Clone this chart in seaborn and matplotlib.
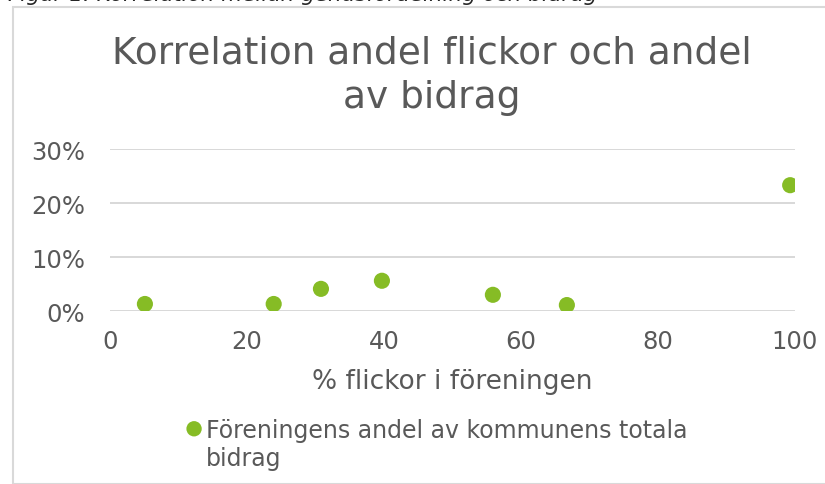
import matplotlib
matplotlib.use("Agg")
import matplotlib.pyplot as plt
import seaborn as sns
import pandas as pd
from matplotlib.ticker import PercentFormatter
from matplotlib.patches import Rectangle

# data
andel_flickor = [5.1, 23.9, 30.8, 39.7, 55.9, 66.7, 99.3]
andel_bidrag = [0.013, 0.013, 0.041, 0.056, 0.030, 0.011, 0.233]
serie_namn = "Föreningens andel av kommunens totala\nbidrag"

df = pd.DataFrame({"flickor": andel_flickor, "bidrag": andel_bidrag})

sns.set_style("white")
plt.rcParams['font.family'] = ['DejaVu Sans']
gray = "#595959"
green = "#86BC25"

fig = plt.figure(figsize=(8.25, 4.85), dpi=100)
ax = fig.add_axes([0.1333, 0.3567, 0.8303, 0.334])

# chart frame and clipped caption above it
fig.patches.append(Rectangle((13 / 825, 0), 1, 1 - 8 / 485, transform=fig.transFigure,
                             fill=False, edgecolor="#D9D9D9", linewidth=1.5))
fig.text(8 / 825, 1 - 1 / 485, "Figur 1. Korrelation mellan genusfördelning och bidrag",
         fontsize=15.5, style="italic", color="#262626", va="baseline", ha="left")

sns.scatterplot(data=df, x="flickor", y="bidrag", ax=ax, color=green, s=135,
                edgecolor="none", label=serie_namn, legend=False, zorder=3)

ax.set_xlim(0, 100)
ax.set_ylim(0, 0.3)
ax.set_xticks([0, 20, 40, 60, 80, 100])
ax.set_yticks([0, 0.1, 0.2, 0.3])
ax.yaxis.set_major_formatter(PercentFormatter(1.0, decimals=0))
ax.grid(axis="y", color="#D9D9D9", linewidth=1.44)
ax.grid(axis="x", visible=False)
for s in ax.spines.values():
    s.set_visible(False)
ax.tick_params(axis="both", length=0, labelsize=17.5, labelcolor=gray)
ax.tick_params(axis="y", pad=18)
ax.tick_params(axis="x", pad=13)
ax.set_xlabel("% flickor i föreningen", fontsize=19, color=gray, labelpad=11)
ax.set_ylabel("")

fig.text(432 / 825, 1 - 76 / 485, "Korrelation andel flickor och andel\nav bidrag",
         ha="center", va="center", fontsize=27, color=gray, linespacing=1.32)

handles, labels = ax.get_legend_handles_labels()
leg = fig.legend(handles, labels, loc="upper left", bbox_to_anchor=(174 / 825, 1 - 410 / 485),
                 frameon=False, fontsize=17, handletextpad=0.05, handlelength=0.9,
                 markerscale=0.95, borderaxespad=0, labelspacing=0.2)
for t in leg.get_texts():
    t.set_color(gray)
    t.set_linespacing(1.2)
# marker next to the first line of the wrapped label
for col in leg._legend_handle_box.get_children():
    for hp in col.get_children():
        hp.align = "top"

fig.savefig("out.png", dpi=100)
